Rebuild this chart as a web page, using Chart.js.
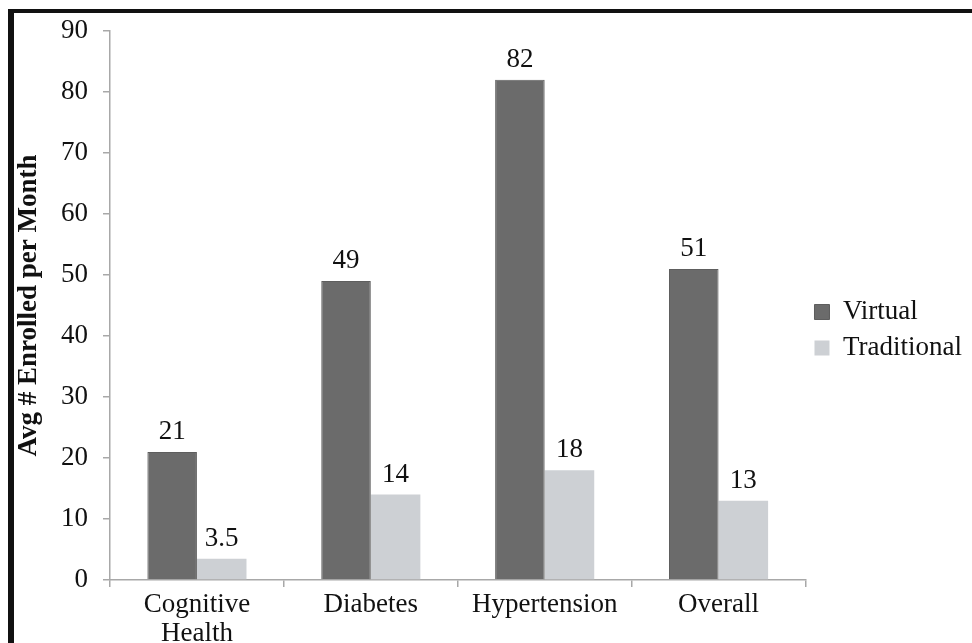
<!DOCTYPE html>
<html>
<head>
<meta charset="utf-8">
<script src="https://cdn.jsdelivr.net/npm/chart.js@4/dist/chart.umd.min.js"></script>
<style>
  html, body { margin: 0; padding: 0; background: #fff; }
  #wrap { position: relative; width: 972px; height: 643px; overflow: hidden; }
  #c { position: absolute; left: 0; top: 0; }
  .bTop { position: absolute; left: 8px; top: 9px; width: 964px; height: 4px; background: #111; }
  .bLeft { position: absolute; left: 8px; top: 9px; width: 6px; height: 634px; background: #111; }
</style>
</head>
<body>
<div id="wrap">
  <canvas id="c" width="972" height="643"></canvas>
  <div class="bTop"></div>
  <div class="bLeft"></div>
</div>
<script>
// chart data
const categories = [['Cognitive', 'Health'], 'Diabetes', 'Hypertension', 'Overall'];
const virtualVals = [21, 49, 82, 51];
const traditionalVals = [3.5, 14, 18, 13];
const yTicks = [0, 10, 20, 30, 40, 50, 60, 70, 80, 90];

const SERIF = "'Liberation Serif', 'Times New Roman', serif";
const AXIS = '#a8a8a8';

// value labels above bars
const valueLabels = {
  id: 'valueLabels',
  afterDatasetsDraw(chart) {
    const ctx = chart.ctx;
    ctx.save();
    ctx.font = "27px " + SERIF;
    ctx.fillStyle = '#111';
    ctx.textAlign = 'center';
    ctx.textBaseline = 'alphabetic';
    chart.data.datasets.forEach((ds, i) => {
      chart.getDatasetMeta(i).data.forEach((bar, j) => {
        ctx.fillText(String(ds.data[j]), bar.x, bar.y - 13);
      });
    });
    ctx.restore();
  }
};

new Chart(document.getElementById('c'), {
  type: 'bar',
  data: {
    labels: categories,
    datasets: [
      {
        label: 'Virtual',
        data: virtualVals,
        backgroundColor: '#6b6b6b',
        borderColor: '#5e5e5e',
        borderWidth: 1,
        categoryPercentage: 0.57,
        barPercentage: 1.0
      },
      {
        label: 'Traditional',
        data: traditionalVals,
        backgroundColor: '#cdd0d4',
        borderWidth: 0,
        categoryPercentage: 0.57,
        barPercentage: 1.0
      }
    ]
  },
  options: {
    responsive: false,
    animation: false,
    layout: {padding: {top: 17, left: 0, right: 0, bottom: 0}},
    plugins: {
      tooltip: {enabled: false},
      legend: {
        position: 'right',
        align: 'center',
        labels: {
          boxWidth: 15,
          boxHeight: 15,
          padding: 9,
          color: '#111',
          font: {family: SERIF, size: 27}
        }
      }
    },
    scales: {
      x: {
        offset: true,
        grid: {display: true, offset: true, drawOnChartArea: false, drawTicks: true, tickLength: 7, color: AXIS, lineWidth: 1.5},
        border: {display: true, color: AXIS, width: 1.5},
        ticks: {color: '#111', padding: 4, font: {family: SERIF, size: 27, lineHeight: 1.05}, maxRotation: 0, autoSkip: false},
        afterFit: s => { s.height = 63; }
      },
      y: {
        min: 0,
        max: 90,
        afterBuildTicks: s => { s.ticks = yTicks.map(v => ({value: v})); },
        grid: {display: true, drawOnChartArea: false, drawTicks: true, tickLength: 7, color: AXIS, lineWidth: 1.5},
        border: {display: true, color: AXIS, width: 1.5},
        ticks: {color: '#111', padding: 15, font: {family: SERIF, size: 27}},
        title: {
          display: true,
          text: 'Avg # Enrolled per Month',
          color: '#111',
          padding: {top: 13, bottom: 0},
          font: {family: SERIF, size: 27, weight: 'bold'}
        },
        afterFit: s => { s.width = 110; s.paddingTop = 31; }
      }
    }
  },
  plugins: [valueLabels]
});
</script>
</body>
</html>
